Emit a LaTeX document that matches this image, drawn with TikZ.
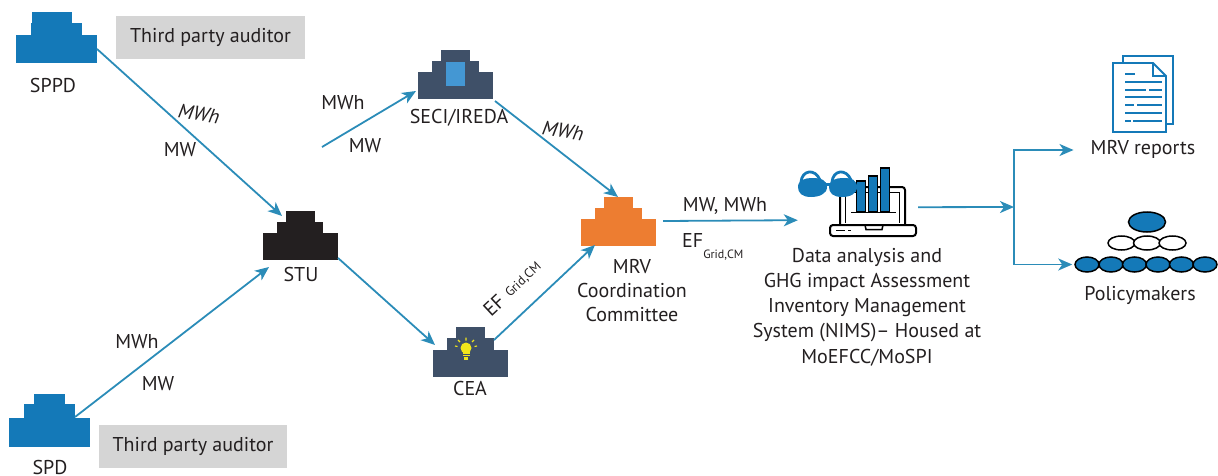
\documentclass[tikz,border=0pt]{standalone}
\usepackage{fontspec}
\setmainfont{PT Sans}
\usetikzlibrary{arrows.meta,calc,shapes.geometric}
\definecolor{linec}{HTML}{2B8CB8}
\definecolor{iconblue}{HTML}{1479B8}
\definecolor{navy}{HTML}{3F5068}
\definecolor{lightb}{HTML}{4497D3}
\definecolor{orng}{HTML}{ED7D31}
\definecolor{blk}{HTML}{231F20}
\definecolor{txt}{HTML}{231F20}
\definecolor{boxg}{HTML}{D5D5D5}
\definecolor{bulbc}{HTML}{F2E61C}
\begin{document}
\begin{tikzpicture}[x=1pt,y=-1pt,
  flow/.style={draw=linec,line width=1.8pt,-{Stealth[length=14pt,width=12pt,inset=4pt]}},
  lbl/.style={font=\fontsize{20}{24}\selectfont,text=txt,inner sep=0pt},
  itlbl/.style={lbl,font=\itshape\fontsize{20}{24}\selectfont,rotate=-9},
  auditbox/.style={fill=boxg,inner sep=0pt,minimum width=#1,minimum height=43pt,font=\fontsize{20}{24}\selectfont,text=txt},
  blockbox/.style={inner sep=0pt,outer sep=0pt,minimum width=#1,minimum height=27pt},
  doc/.style={draw=iconblue,line width=1.8pt},
  docline/.style={draw=iconblue,line width=2pt},
  person/.style={ellipse,draw=black,line width=1.5pt,inner sep=0pt,minimum width=24pt,minimum height=15pt},
  lap/.style={draw=black,line width=2pt}
]
\useasboundingbox (0,0) rectangle (1218,476);

% ---------- icons ----------
% SPPD
\node[blockbox=81pt,minimum height=28pt,fill=iconblue] (sppd) at (56.5,49) {};
\fill[iconblue] (31,23) rectangle (82,35.5);
\fill[iconblue] (32,12) rectangle (72,23.5);
% SPD
\node[blockbox=81pt,minimum height=29pt,fill=iconblue] (spd) at (49.5,432.5) {};
\fill[iconblue] (24,404) rectangle (75,418.5);
\fill[iconblue] (34,394) rectangle (65,404.5);
% STU
\node[blockbox=75pt,fill=blk] (stu) at (300.5,246.5) {};
\fill[blk] (277,222) rectangle (323,233.5);
\fill[blk] (286,211) rectangle (315,222.5);
% SECI/IREDA
\node[blockbox=75pt,fill=navy] (seci) at (455.5,85.5) {};
\fill[navy] (432,61) rectangle (479,72.5);
\fill[navy] (441,50) rectangle (470,61.5);
\fill[lightb] (446,62) rectangle (465,86);
% CEA
\node[blockbox=75pt,fill=navy] (cea) at (470.5,363.5) {};
\fill[navy] (447,338) rectangle (494,350.5);
\fill[navy] (456,327) rectangle (485,338.5);
\fill[bulbc] (466,348) circle (5.5);
\fill[bulbc] (462.5,350) rectangle (469.5,357);
\draw[navy,line width=0.8pt] (462.5,354) -- (469.5,354) (462.5,356.5) -- (469.5,356.5);
\fill[bulbc] (464,357) rectangle (468,360);
\draw[bulbc,line width=1.1pt] (466,337.5) -- (466,340.5) (458,340) -- (460,342) (474,340) -- (472,342) (455,346) -- (457.5,346.5) (477,346) -- (474.5,346.5);
% MRV
\node[blockbox=75pt,fill=orng] (mrv) at (618.5,232.5) {};
\fill[orng] (595,208) rectangle (642,219.5);
\fill[orng] (604,197) rectangle (633,208.5);

% Laptop with glasses
\node[inner sep=0pt,minimum width=118pt,minimum height=69pt] (lap) at (857,202.5) {};
\draw[lap,rounded corners=3pt] (840,224) -- (840,187) -- (905,187) -- (905,224);
\draw[black,line width=1pt] (845.5,223) -- (845.5,192.5) -- (899.5,192.5) -- (899.5,223);
\draw[lap,rounded corners=3pt] (830,225) -- (916,225) -- (916,236) -- (830,236) -- cycle;
\draw[black,line width=1.5pt] (865,225) -- (866,229.5) -- (882,229.5) -- (883,225);
\draw[black,line width=1.6pt] (836,230.5) -- (845,230.5) (848,230.5) -- (851,230.5);
\filldraw[fill=iconblue,draw=black,line width=1.3pt] (856.5,181) rectangle (865.5,212);
\filldraw[fill=iconblue,draw=black,line width=1.3pt] (868.5,176) rectangle (877.5,212);
\filldraw[fill=iconblue,draw=black,line width=1.3pt] (880.5,168) rectangle (889.5,212);
\draw[black,line width=1.6pt] (851,212.5) -- (896,212.5);
% glasses
\fill[iconblue] (798,187) .. controls (798,180) and (805,178) .. (812,178) .. controls (821,178) and (827,180) .. (827,187) .. controls (827,194) and (819,197) .. (811,197) .. controls (802,197) and (798,193) .. (798,187) -- cycle;
\fill[iconblue] (829,187) .. controls (829,180) and (836,178) .. (843,178) .. controls (852,178) and (857,180) .. (857,187) .. controls (857,194) and (850,197) .. (842,197) .. controls (833,197) and (829,193) .. (829,187) -- cycle;
\draw[iconblue,line width=3pt] (824,184) -- (832,184);
\draw[iconblue,line width=2.8pt] (801,182) .. controls (802,170) and (815,168) .. (820,180);
\draw[iconblue,line width=2.8pt] (832,182) .. controls (833,170) and (846,168) .. (851,180);

% MRV reports document
\draw[doc] (1123,63) -- (1123,56) -- (1173,56) -- (1173,124) -- (1166,124);
\filldraw[doc,fill=white] (1113,63) -- (1153,63) -- (1166,76) -- (1166,132) -- (1113,132) -- cycle;
\draw[doc] (1153,63) -- (1153,76) -- (1166,76);
\draw[docline] (1125,74) -- (1135,74)
  (1125,82) -- (1162,82)
  (1125,90) -- (1146,90) (1149,90) -- (1162,90)
  (1125,97.5) -- (1162,97.5)
  (1125,105) -- (1134,105) (1137,105) -- (1162,105)
  (1125,113) -- (1162,113)
  (1125,121) -- (1131,121) (1133,121) -- (1162,121);

% Policymakers
\node[person,fill=iconblue,minimum width=37pt,minimum height=20pt] (pmtop) at (1147,222) {};
\node[person,fill=white,minimum width=27pt,minimum height=14pt] (pmm1) at (1121.5,243) {};
\node[person,fill=white,minimum width=27pt,minimum height=14pt] (pmm2) at (1147,243) {};
\node[person,fill=white,minimum width=27pt,minimum height=14pt] (pmm3) at (1172.5,243) {};
\node[person,fill=iconblue] (pm1) at (1087,264.5) {};
\node[person,fill=iconblue] (pm2) at (1111,264.5) {};
\node[person,fill=iconblue] (pm3) at (1134.5,264.5) {};
\node[person,fill=iconblue] (pm4) at (1158,264.5) {};
\node[person,fill=iconblue] (pm5) at (1181.5,264.5) {};
\node[person,fill=iconblue] (pm6) at (1205,264.5) {};

% ---------- texts ----------
\node[auditbox=189pt] (aud1) at (210.5,37.5) {Third party auditor};
\node[auditbox=188pt] (aud2) at (193,446.5) {Third party auditor};
\node[lbl] (tsppd) at (53,86) {SPPD};
\node[lbl] (tspd) at (50,467) {SPD};
\node[lbl] (tstu) at (301,274) {STU};
\node[lbl] (tseci) at (459,118) {SECI/IREDA};
\node[lbl] (tcea) at (470,388) {CEA};
\node[lbl,align=center,font=\fontsize{20}{24}\selectfont] (tmrv) at (632,291) {MRV\\Coordination\\Committee};
\node[lbl,align=center,font=\fontsize{20}{25.2}\selectfont] (tdata) at (867,307) {Data analysis and\\GHG impact Assessment\\Inventory Management\\System (NIMS)– Housed at\\MoEFCC/MoSPI};
\node[lbl] (trep) at (1143,149) {MRV reports};
\node[lbl] (tpol) at (1140,295) {Policymakers};

\node[itlbl] (l1) at (199,114) {MWh};
\node[lbl] (l2) at (180,150) {MW};
\node[lbl] (l3) at (137,342) {MWh};
\node[lbl] (l4) at (158,384) {MW};
\node[lbl] (l5) at (343,103) {MWh};
\node[lbl] (l6) at (365,146) {MW};
\node[itlbl] (l7) at (563,131) {MWh};
\node[lbl] (l8) at (725,206) {MW, MWh};
\node[lbl,anchor=base west] (l9) at (682,247) {EF\raisebox{-1.1ex}{\fontsize{12}{14}\selectfont Grid,CM}};
\node[lbl,rotate=43,anchor=base west] (l10) at (491,318) {EF\,\,\raisebox{0.2ex}{\fontsize{13}{15}\selectfont Grid,CM}};

% ---------- connectors ----------
\coordinate (secifree) at (322,147);
\coordinate (br) at (1014,207);
\draw[flow] (sppd.east) -- ([shift={(19,-17)}]stu.north west);
\draw[flow] ([shift={(-15,-1)}]spd.north east) -- ([shift={(6,7)}]stu.south west);
\draw[flow] (secifree) -- ([shift={(-2,-8)}]seci.south west);
\draw[flow] ([shift={(2,2)}]seci.south east) -- ([shift={(37,-22)}]mrv.north west);
\draw[flow] ([shift={(0,-2)}]stu.south east) -- ([shift={(2,-5)}]cea.north west);
\draw[flow] ([shift={(-14,-10)}]cea.north east) -- ([shift={(14,-1)}]mrv.south west);
\draw[flow] ([shift={(7,2)}]mrv.north east) -- ([shift={(0,-17)}]lap.south west);
\draw[flow] ([shift={(2,-30)}]lap.south east) -- (br);
\draw[flow] (br) |- ([shift={(-17,1)}]trep.west);
\draw[flow] (br) |- ([xshift=-2pt]pm1.west);
\end{tikzpicture}
\end{document}
